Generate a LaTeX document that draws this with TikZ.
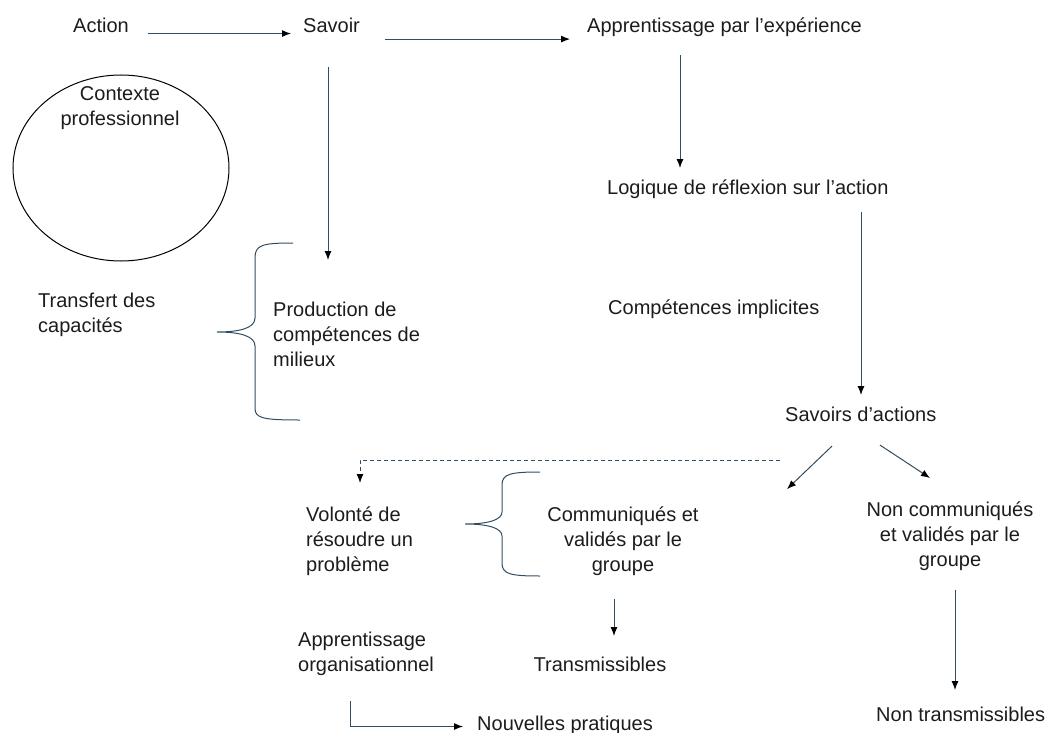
\documentclass[tikz,border=0pt]{standalone}
\usepackage{fontspec}
\setmainfont{Liberation Sans}
\usetikzlibrary{arrows.meta,shapes.geometric}
\definecolor{linec}{RGB}{48,78,98}
\definecolor{textc}{RGB}{28,28,28}
\tikzset{
  lbl/.style={inner sep=0pt,text=textc,font=\fontsize{20}{25}\selectfont},
  ln/.style={draw=linec,line width=1pt},
  arr/.style={ln,-{Latex[length=9pt,width=7pt,color=black]}},
  dsh/.style={arr,dashed,dash pattern=on 4pt off 3pt}
}
\begin{document}
\begin{tikzpicture}[x=1pt,y=-1pt]
  \useasboundingbox (0,0) rectangle (1046,733);
  % top row
  \node[lbl,anchor=north west] (action) at (73,18) {Action};
  \node[lbl,anchor=north west] (savoir) at (303,18) {Savoir};
  \node[lbl,anchor=north west] (appr) at (587,18) {Apprentissage par l’expérience};
  \node[lbl,anchor=north west] (logique) at (607,180) {Logique de réflexion sur l’action};
  % left part
  \node[ellipse,draw=black,line width=1pt,minimum width=216,minimum height=186] (ctxshape) at (121,168) {};
  \node[lbl,anchor=north,align=center] (ctx) at (120,86) {Contexte\\professionnel};
  \node[lbl,anchor=north west,align=left] (transfert) at (38,293) {Transfert des\\capacités};
  \node[lbl,anchor=north west,align=left] (prod) at (273,302) {Production de\\compétences de\\milieux};
  \node[lbl,anchor=north west] (implicites) at (608,300) {Compétences implicites};
  \node[lbl,anchor=north west] (savact) at (785,407) {Savoirs d’actions};
  % bottom part
  \node[lbl,anchor=north west,align=left] (volonte) at (306,507) {Volonté de\\résoudre un\\problème};
  \node[lbl,anchor=north,align=center] (comm) at (623,507) {Communiqués et\\validés par le\\groupe};
  \node[lbl,anchor=north,align=center] (noncomm) at (950,502) {Non communiqués\\et validés par le\\groupe};
  \node[lbl,anchor=north] (trans) at (600,657) {Transmissibles};
  \node[lbl,anchor=north west,align=left] (approrg) at (298,632) {Apprentissage\\organisationnel};
  \node[lbl,anchor=north west] (nouv) at (477,716) {Nouvelles pratiques};
  \node[lbl,anchor=north west] (nontrans) at (876,707) {Non transmissibles};
  \coordinate (gauche) at ([shift={(2,67)}]savact.south west);

  % connectors
  \draw[arr] ([shift={(19,8)}]action.east) coordinate (ac) -- (ac -| savoir.west) [shorten >=12pt];
  \draw[arr,shorten >=17pt] ([shift={(82,6)}]savoir.south west) coordinate (sv) -- (sv -| appr.west);
  \draw[arr] ([shift={(25,34)}]savoir.south west) -- ([shift={(55,-42)}]prod.north west);
  \draw[arr] ([shift={(93,18)}]appr.south west) -- ([shift={(73,-12)}]logique.north west);
  \draw[arr] ([shift={(254,13)}]logique.south west) -- ([shift={(76,-12)}]savact.north west);
  \draw[dsh] ([shift={(-5,38)}]savact.south west) -| ([shift={(54,-24)}]volonte.north west);
  \draw[arr] ([shift={(47,24)}]savact.south west) -- (gauche);
  \draw[arr] ([shift={(95,23)}]savact.south west) -- ([shift={(-20,-24)}]noncomm.north);
  \draw[arr] ([shift={(-9,23)}]comm.south) -- ([shift={(14,-21)}]trans.north);
  \draw[arr] ([shift={(5,19)}]noncomm.south) -- ([shift={(79,-17)}]nontrans.north west);
  \draw[arr] ([shift={(52,25)}]approrg.south west) |- ([shift={(-14,1)}]nouv.west);

  % braces
  \draw[ln] (293,243) .. controls (262,243) and (255,245) .. (255,258) -- (255,318)
    .. controls (255,328) and (240,332) .. (217,332) .. controls (240,332) and (255,336) .. (255,346)
    -- (255,408) .. controls (255,418) and (262,420) .. (300,420);
  \draw[ln] (540,472) .. controls (510,472) and (502,474) .. (502,485) -- (502,512)
    .. controls (502,520) and (488,524) .. (465,524) .. controls (488,524) and (502,528) .. (502,536)
    -- (502,563) .. controls (502,574) and (510,576) .. (540,576);
\end{tikzpicture}
\end{document}
